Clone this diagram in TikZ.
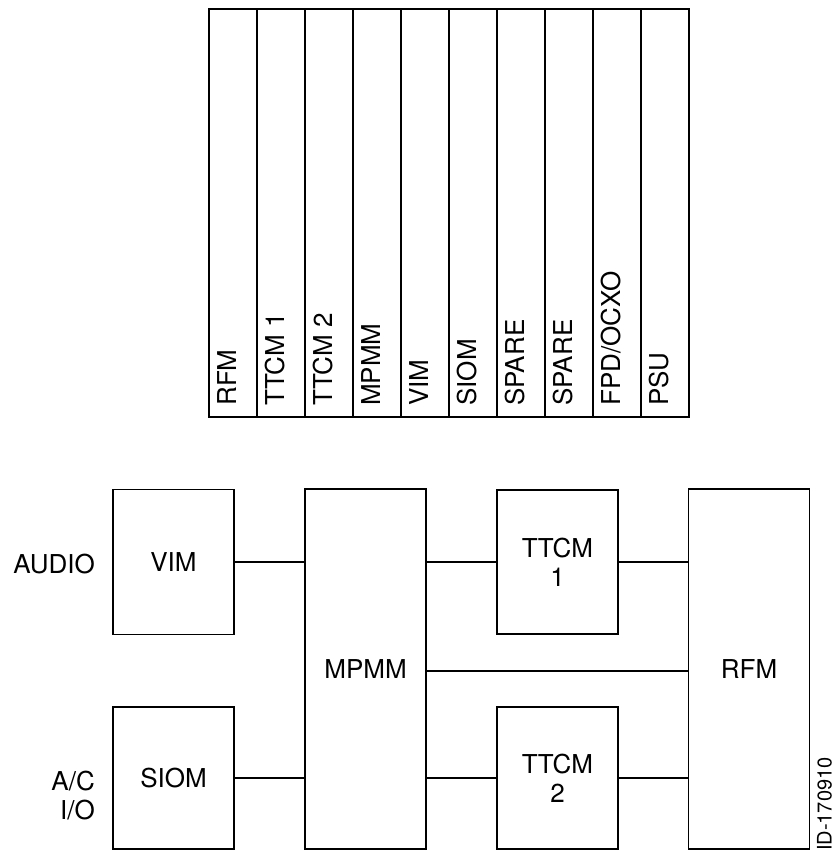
\documentclass[tikz,border=0pt]{standalone}
\usepackage{fontspec}
\setmainfont{TeX Gyre Heros}
\newcommand{\lblfont}{\fontsize{26}{29}\selectfont}
\newcommand{\idfont}{\fontsize{20}{22}\selectfont}
\begin{document}
\begin{tikzpicture}[x=1pt,y=-1pt,
  modbox/.style={draw, line width=1.8pt, rectangle, inner sep=0pt, align=center,
    font=\lblfont, minimum width=121pt},
  slotbox/.style={draw, line width=1.8pt, rectangle, inner sep=0pt,
    minimum width=48pt, minimum height=408pt},
  slotlbl/.style={rotate=90, anchor=west, inner sep=0pt, font=\lblfont,
    text height=0.72em, text depth=0pt},
  extlbl/.style={inner sep=0pt, align=right, font=\lblfont, anchor=east},
  wire/.style={draw, line width=1.8pt}]
\useasboundingbox (0,0) rectangle (837,850);

% card rack
\foreach \lab [count=\i from 0] in {RFM,TTCM 1,TTCM 2,MPMM,VIM,SIOM,SPARE,SPARE,FPD/OCXO,PSU}{
  \node[slotbox] (slot\i) at ({233+48*\i},213) {};
  \node[slotlbl] (slotlbl\i) at ([yshift=12pt]slot\i.south) {\lab};
}

% block diagram
\node[modbox, minimum height=145pt] (vim) at (173.5,562) {VIM};
\node[modbox, minimum height=142pt] (siom) at (173.5,778) {SIOM};
\node[modbox, minimum height=360pt] (mpmm) at (365.5,669) {MPMM};
\node[modbox, minimum height=144pt] (ttcma) at (557.5,562) {TTCM\\1};
\node[modbox, minimum height=142pt] (ttcmb) at (557.5,778) {TTCM\\2};
\node[modbox, minimum height=360pt] (rfm) at (749,669) {RFM};

\node[extlbl] (audio) at (95,564.5) {AUDIO};
\node[extlbl] (acio) at (95,795.5) {A/C\\I/O};

\draw[wire] (vim.east) -- (vim.east -| mpmm.west);
\draw[wire] (siom.east) -- (siom.east -| mpmm.west);
\draw[wire] (ttcma.west -| mpmm.east) -- (ttcma.west);
\draw[wire] (ttcma.east) -- (ttcma.east -| rfm.west);
\draw[wire] ([yshift=-2pt]mpmm.east) -- ([yshift=-2pt]mpmm.east -| rfm.west);
\draw[wire] (ttcmb.west -| mpmm.east) -- (ttcmb.west);
\draw[wire] (ttcmb.east) -- (ttcmb.east -| rfm.west);

\node[rotate=90, anchor=west, inner sep=0pt, font=\idfont, text height=0.72em, text depth=0pt] (id) at (828,851) {ID-170910};
\end{tikzpicture}
\end{document}
